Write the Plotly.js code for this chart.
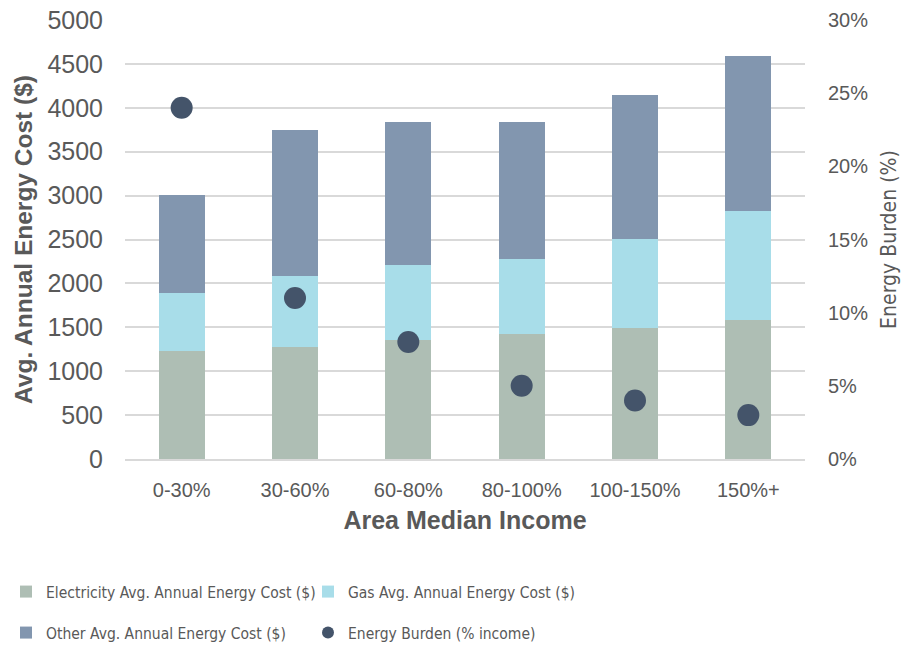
<!DOCTYPE html>
<html><head><meta charset="utf-8">
<script src="https://cdn.plot.ly/plotly-3.0.1.min.js"></script>
<style>html,body{margin:0;padding:0;background:#fff}#chart{width:902px;height:649px}</style>
</head><body><div id="chart"></div>
<script>
const categories = ["0-30%", "30-60%", "60-80%", "80-100%", "100-150%", "150%+"];
const electricity = [1230, 1275, 1355, 1425, 1490, 1585];
const gas = [660, 810, 850, 855, 1015, 1240];
const other = [1115, 1665, 1630, 1560, 1640, 1765];
const burden = [0.24, 0.11, 0.08, 0.05, 0.04, 0.03];

const narrow = "'DejaVu Sans Condensed', 'Liberation Sans Narrow', sans-serif";
const sans = "'Liberation Sans', Arial, sans-serif";
const grey = "#595959";

const traces = [
  {type:"bar", name:"Electricity Avg. Annual Energy Cost ($)", x:categories, y:electricity, marker:{color:"#AEBEB4"}, legend:"legend"},
  {type:"bar", name:"Gas Avg. Annual Energy Cost ($)", x:categories, y:gas, marker:{color:"#A8DDE9"}, legend:"legend"},
  {type:"bar", name:"Other Avg. Annual Energy Cost ($)", x:categories, y:other, marker:{color:"#8296AF"}, legend:"legend2"},
  {type:"scatter", mode:"markers", name:"Energy Burden (% income)", x:categories, y:burden, yaxis:"y2",
   marker:{color:"#44546A", size:22}, legend:"legend2"}
];

const legendBase = {
  orientation:"h", xref:"container", yref:"container", x:6/902, xanchor:"left", yanchor:"middle",
  entrywidth:257, entrywidthmode:"pixels", itemwidth:30, itemsizing:"constant",
  font:{family:narrow, size:15.5, color:grey}, traceorder:"normal", bgcolor:"rgba(0,0,0,0)"
};

const layout = {
  width:902, height:649,
  margin:{l:125, r:97, t:20, b:190, autoexpand:false},
  barmode:"stack", bargap:0.595,
  paper_bgcolor:"#fff", plot_bgcolor:"#fff",
  font:{family:sans, color:grey, size:18},
  showlegend:true,
  xaxis:{
    tickfont:{family:sans, size:20, color:grey},
    ticklabelstandoff:12,
    showline:true, linecolor:"#d9d9d9", linewidth:2,
    title:{text:"<b>Area Median Income</b>", font:{family:sans, size:25, color:grey}, standoff:11}
  },
  yaxis:{
    range:[0,5000], dtick:500, tickformat:"d",
    tickfont:{family:sans, size:25, color:grey},
    gridcolor:"#d9d9d9", gridwidth:2, zeroline:false,
    ticklabelstandoff:21,
    title:{text:"<b>Avg. Annual Energy Cost ($)</b>", font:{family:sans, size:24.5, color:grey}, standoff:7}
  },
  yaxis2:{
    overlaying:"y", side:"right", range:[0,0.3], dtick:0.05, tickformat:".0%",
    tickfont:{family:sans, size:20, color:grey},
    showgrid:false, zeroline:false,
    ticklabelstandoff:22,
    title:{text:"Energy Burden (%)", font:{family:narrow, size:21, color:grey}, standoff:14}
  },
  legend:Object.assign({}, legendBase, {y:1-592/649}),
  legend2:Object.assign({}, legendBase, {y:1-633/649})
};

Plotly.newPlot("chart", traces, layout, {staticPlot:true});
</script></body></html>
